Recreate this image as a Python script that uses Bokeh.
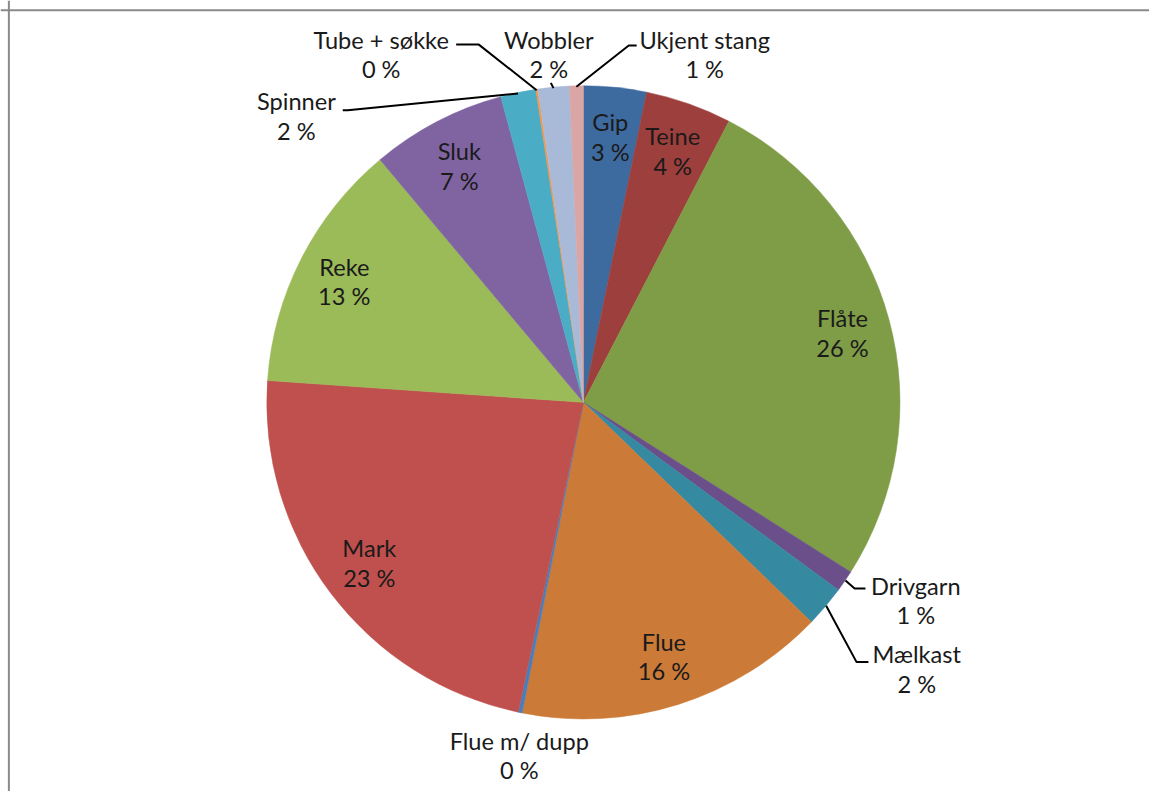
import math
from bokeh.plotting import figure
from bokeh.models import Range1d, Span
from bokeh.core.properties import value
from bokeh.embed import file_html
from bokeh.resources import INLINE

# ---- data ----
names = ["Gip", "Teine", "Flåte", "Drivgarn", "Mælkast", "Flue", "Flue m/ dupp",
         "Mark", "Reke", "Sluk", "Spinner", "Tube + søkke", "Wobbler", "Ukjent stang"]
shares = [3.2, 4.4, 26.4, 1.1, 2.1, 15.9, 0.2, 22.8, 12.8, 6.9, 1.8, 0.1, 1.6, 0.7]
colors = ["#3E6B9F", "#9D3F3C", "#7F9C47", "#6A4F8B", "#3589A1", "#CC7A37", "#4A7EBB",
          "#C0504D", "#9BBB59", "#8064A2", "#4BACC6", "#F79646", "#A9BAD9", "#D9A6A5"]
outside = {"Drivgarn", "Mælkast", "Flue m/ dupp", "Spinner", "Tube + søkke", "Wobbler", "Ukjent stang"}

# ---- layout (reference pixel coordinates, scaled to the figure) ----
W, H = 1149, 791
SX, SY = W / 1165, H / 807
SR = (SX + SY) / 2
CX, CY, R = 591, 410, 322
LABEL_R = 0.845
FONT = value("Lato")
FSIZE = value(f"{24 * SR:.1f}px")
LINE_GAP = 30

outside_pos = {
    "Drivgarn": (928, 597), "Mælkast": (929, 667), "Flue m/ dupp": (526, 755),
    "Spinner": (300, 103), "Tube + søkke": (386, 40), "Wobbler": (556, 40),
    "Ukjent stang": (714, 40),
}
leader_pts = {
    "Ukjent stang": [(637, 46), (645, 46)],
    "Wobbler": [(558, 84)],
    "Tube + søkke": [(485, 45), (462, 45)],
    "Spinner": [(352, 112), (347, 112)],
    "Drivgarn": [(866, 600), (877, 600)],
    "Mælkast": [(868, 675), (880, 675)],
}


def fx(px):
    return px * SX


def fy(py):
    return H - py * SY


p = figure(width=W, height=H, output_backend="svg", toolbar_location=None,
           x_range=Range1d(0, W), y_range=Range1d(0, H), min_border=0)
p.axis.visible = False
p.grid.visible = False
p.outline_line_color = None
p.background_fill_color = "white"
p.border_fill_color = "white"

# chart frame (only top and left edges are inside the window)
p.add_layout(Span(location=fy(10), dimension="width", line_color="#8A8A8A", line_width=2))
p.add_layout(Span(location=fx(8.5), dimension="height", line_color="#8A8A8A", line_width=2))

total = sum(shares)
starts, ends, mids = [], [], []
cum = 0.0
for s in shares:
    a0 = cum / total
    cum += s
    a1 = cum / total
    starts.append(math.pi / 2 - 2 * math.pi * a0)
    ends.append(math.pi / 2 - 2 * math.pi * a1)
    mids.append(2 * math.pi * (a0 + a1) / 2)  # clockwise from top

p.wedge(x=[fx(CX)] * len(shares), y=[fy(CY)] * len(shares), radius=R * SR,
        start_angle=starts, end_angle=ends, direction="clock",
        fill_color=colors, line_color=colors, line_width=0.5)

# labels
lx, ly, lt, px_, py_, pt = [], [], [], [], [], []
for n, s, m in zip(names, shares, mids):
    if n in outside:
        x0, y0 = outside_pos[n]
    else:
        x0 = CX + LABEL_R * R * math.sin(m)
        y0 = CY - LABEL_R * R * math.cos(m) - LINE_GAP / 2
    lx.append(fx(x0)); ly.append(fy(y0)); lt.append(n)
    px_.append(fx(x0)); py_.append(fy(y0 + LINE_GAP)); pt.append(f"{round(s / total * 100)} %")

p.text(x=lx, y=ly, text=lt, text_align="center", text_baseline="middle",
       text_font=FONT, text_font_size=FSIZE, text_color="#1A1A1A")
p.text(x=px_, y=py_, text=pt, text_align="center", text_baseline="middle",
       text_font=FONT, text_font_size=FSIZE, text_color="#1A1A1A")

# leader lines
xs, ys = [], []
for n, pts in leader_pts.items():
    m = mids[names.index(n)]
    ex = CX + R * math.sin(m)
    ey = CY - R * math.cos(m)
    line = [(ex, ey)] + pts
    xs.append([fx(a) for a, b in line])
    ys.append([fy(b) for a, b in line])
p.multi_line(xs=xs, ys=ys, line_color="black", line_width=2)

open("out.html", "w").write(file_html(p, INLINE))
